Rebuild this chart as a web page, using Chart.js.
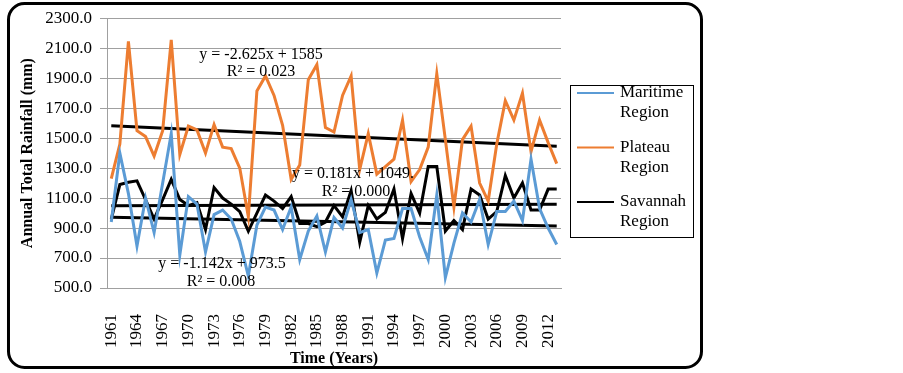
<!DOCTYPE html>
<html>
<head>
<meta charset="utf-8">
<script src="https://cdn.jsdelivr.net/npm/chart.js@4.4.1/dist/chart.umd.min.js"></script>
<style>
html,body{margin:0;padding:0;background:#fff;}
#wrap{position:relative;width:903px;height:373px;}
canvas{display:block;}
</style>
</head>
<body>
<div id="wrap"><canvas id="c" width="903" height="373"></canvas></div>
<script>
// ---- Data ----
const years = ['1961','1962','1963','1964','1965','1966','1967','1968','1969','1970',
  '1971','1972','1973','1974','1975','1976','1977','1978','1979','1980',
  '1981','1982','1983','1984','1985','1986','1987','1988','1989','1990',
  '1991','1992','1993','1994','1995','1996','1997','1998','1999','2000',
  '2001','2002','2003','2004','2005','2006','2007','2008','2009','2010',
  '2011','2012','2013'];

const xTickLabels = ['1961','1964','1967','1970','1973','1976','1979','1982','1985',
  '1988','1991','1994','1997','2000','2003','2006','2009','2012'];

const yTickValues = [500, 700, 900, 1100, 1300, 1500, 1700, 1900, 2100, 2300];

const maritime = [940,1400,1130,780,1100,870,1200,1530,720,1110,
  1060,740,990,1020,960,810,580,920,1040,1020,
  890,1040,690,880,980,740,970,900,1090,870,
  890,600,820,830,1030,1030,840,690,1120,570,
  800,1000,940,1090,790,1010,1010,1080,950,1360,
  1030,900,790];

const plateau = [1230,1460,2145,1550,1510,1380,1550,2155,1390,1580,
  1555,1400,1590,1440,1430,1300,975,1815,1915,1785,
  1585,1225,1320,1890,1990,1570,1540,1785,1915,1290,
  1530,1260,1310,1360,1620,1210,1290,1440,1930,1490,
  1040,1490,1580,1200,1080,1460,1750,1620,1800,1410,
  1620,1470,1330];

const savannah = [960,1190,1205,1215,1090,960,1090,1225,1090,1050,
  1070,890,1170,1100,1060,1010,880,1000,1120,1080,
  1030,1110,930,930,910,940,1050,975,1150,805,
  1050,960,1005,1160,830,1130,1000,1310,1310,880,
  950,890,1160,1120,960,1010,1250,1100,1200,1020,
  1020,1160,1160];

// trend line end values (1961, 2013)
const maritimeTrend = [972, 913];
const plateauTrend = [1582, 1446];
const savannahTrend = [1049, 1059];

const seriesNames = ['Maritime Region', 'Plateau Region', 'Savannah Region'];
const seriesColors = ['#5B9BD5', '#ED7D31', '#000000'];

const trendTexts = [
  'y = -2.625x + 1585', 'R² = 0.023',
  'y = 0.181x + 1049.', 'R² = 0.000',
  'y = -1.142x + 973.5', 'R² = 0.008'
];

// ---- Layout / style ----
const FONT = "'Liberation Serif', 'Times New Roman', serif";
const trendTextPos = [[261,55],[261,72],[353,174],[356,192],[222,264],[221,282]];

function trendData(t){
  return [{x: years[0], y: t[0]}, {x: years[years.length-1], y: t[1]}];
}

const frame = {
  id: 'frame',
  afterDraw(chart){
    const ctx = chart.ctx;
    ctx.save();
    // trend label text
    ctx.fillStyle = '#000';
    ctx.font = "16px " + FONT;
    ctx.textAlign = 'center';
    ctx.textBaseline = 'middle';
    trendTexts.forEach((t,i)=>{ ctx.fillText(t, trendTextPos[i][0], trendTextPos[i][1]); });

    // legend box
    ctx.lineWidth = 1;
    ctx.strokeStyle = '#000';
    ctx.strokeRect(570.5, 85.5, 123, 152);
    ctx.textAlign = 'left';
    ctx.font = "17px " + FONT;
    chart.data.datasets.slice(0,3).forEach((ds,i)=>{
      const y0 = 93 + i*54.5;
      ctx.strokeStyle = ds.borderColor;
      ctx.lineWidth = 2;
      ctx.beginPath(); ctx.moveTo(577, y0); ctx.lineTo(614, y0); ctx.stroke();
      ctx.fillStyle = '#000';
      const parts = ds.label.split(' ');
      ctx.fillText(parts[0], 620, y0);
      ctx.fillText(parts[1], 620, y0 + 20);
    });

    // outer rounded frame
    ctx.strokeStyle = '#000';
    ctx.lineWidth = 3;
    const x0=8.5, y0=3.5, x1=701.5, y1=367.5, r=16;
    ctx.beginPath();
    ctx.moveTo(x0+r, y0);
    ctx.lineTo(x1-r, y0); ctx.arcTo(x1, y0, x1, y0+r, r);
    ctx.lineTo(x1, y1-r); ctx.arcTo(x1, y1, x1-r, y1, r);
    ctx.lineTo(x0+r, y1); ctx.arcTo(x0, y1, x0, y1-r, r);
    ctx.lineTo(x0, y0+r); ctx.arcTo(x0, y0, x0+r, y0, r);
    ctx.closePath();
    ctx.stroke();
    ctx.restore();
  }
};

const lineW = 3;
new Chart(document.getElementById('c'), {
  type: 'line',
  data: {
    labels: years,
    datasets: [
      {label: seriesNames[0], data: maritime, borderColor: seriesColors[0], borderWidth: lineW, pointRadius: 0, tension: 0},
      {label: seriesNames[1], data: plateau, borderColor: seriesColors[1], borderWidth: lineW, pointRadius: 0, tension: 0},
      {label: seriesNames[2], data: savannah, borderColor: seriesColors[2], borderWidth: lineW, pointRadius: 0, tension: 0},
      {label: 'Plateau trend', data: trendData(plateauTrend), borderColor: '#000', borderWidth: lineW, pointRadius: 0},
      {label: 'Savannah trend', data: trendData(savannahTrend), borderColor: '#000', borderWidth: lineW, pointRadius: 0},
      {label: 'Maritime trend', data: trendData(maritimeTrend), borderColor: '#000', borderWidth: lineW, pointRadius: 0}
    ]
  },
  options: {
    responsive: false,
    animation: false,
    devicePixelRatio: 1,
    layout: {padding: {left: 0, right: 342, top: 18, bottom: 0}},
    plugins: {legend: {display: false}, tooltip: {enabled: false}},
    scales: {
      x: {
        type: 'category',
        offset: true,
        grid: {display: false},
        border: {display: true, color: '#a0a0a0', width: 1},
        ticks: {
          autoSkip: false, minRotation: 90, maxRotation: 90, padding: 18,
          color: '#000', font: {family: FONT, size: 17},
          callback: function(v, i){ return xTickLabels.includes(years[i]) ? years[i] : ''; }
        },
        title: {display: true, text: 'Time (Years)', color: '#000',
          font: {family: FONT, size: 16, weight: 'bold'}, padding: {top: 0, bottom: 5}},
        afterFit: s => { s.height = 85; }
      },
      y: {
        min: 500, max: 2300,
        afterBuildTicks: s => { s.ticks = yTickValues.map(v => ({value: v})); },
        grid: {color: '#a0a0a0', lineWidth: 1, tickLength: 7},
        border: {display: true, color: '#a0a0a0', width: 1},
        ticks: {color: '#000', padding: 8, font: {family: FONT, size: 17},
          callback: v => Number(v).toFixed(1)},
        title: {display: true, text: 'Annual Total Rainfall (mm)', color: '#000',
          font: {family: FONT, size: 16, weight: 'bold'}, padding: {top: 18, bottom: 0}},
        afterFit: s => { s.width = 107; }
      }
    }
  },
  plugins: [frame]
});
</script>
</body>
</html>
